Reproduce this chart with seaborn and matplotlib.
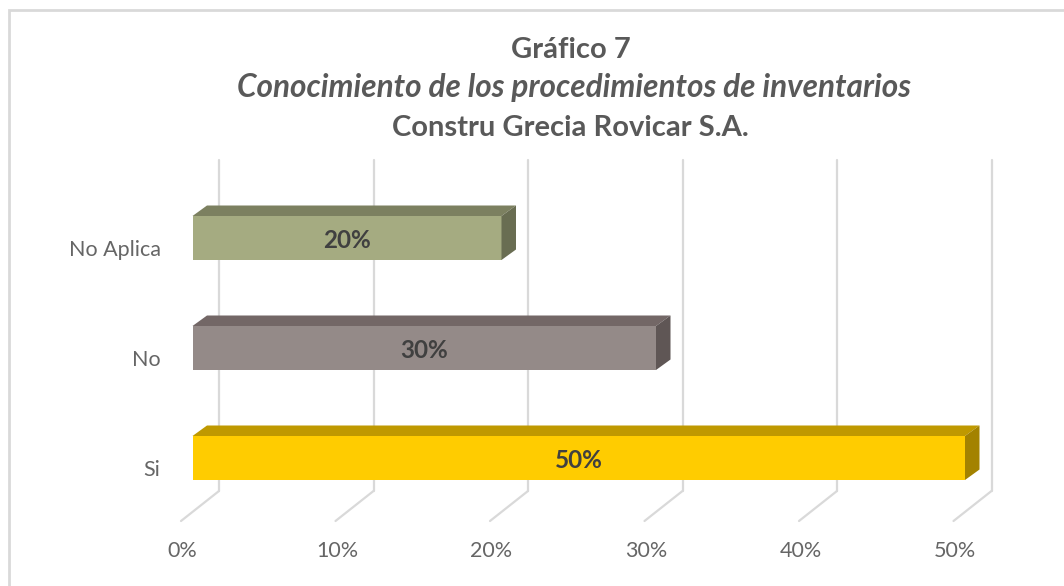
import matplotlib
matplotlib.use('Agg')
import matplotlib.pyplot as plt
from matplotlib.patches import Polygon, Rectangle
from matplotlib.transforms import ScaledTranslation
import pandas as pd
import seaborn as sns

# Values
categories = ['No Aplica', 'No', 'Si']
values = [0.20, 0.30, 0.50]
tick_values = [0.0, 0.1, 0.2, 0.3, 0.4, 0.5]
tick_labels = ['0%', '10%', '20%', '30%', '40%', '50%']
bar_labels = ['20%', '30%', '50%']

front_colors = ['#A5AB81', '#948A88', '#FFCC00']
top_colors = ['#7C8060', '#736766', '#BF9900']
side_colors = ['#696D52', '#5F5655', '#A38200']

W, H = 1064, 586
sns.set_theme(style='white')
plt.rcParams['font.family'] = ['Lato', 'DejaVu Sans']

fig = plt.figure(figsize=(W / 100, H / 100), dpi=100)
# pixel box of the front plane
left, right, top, bottom = 192.5, 965.0, 183.0, 513.0
ax = fig.add_axes([left / W, 1 - bottom / H, (right - left) / W, (bottom - top) / H])

df = pd.DataFrame({'cat': categories, 'val': values})
sns.barplot(data=df, y='cat', x='val', hue='cat', palette=front_colors, legend=False,
            width=0.4, saturation=1, linewidth=0, ax=ax, zorder=3)
ax.set_xlim(0, 0.5)
ax.set_ylim(2.5, -0.5)
ax.set_xlabel('')
ax.set_ylabel('')
sns.despine(ax=ax, left=True, bottom=True)

px_x = 0.5 / (right - left)
px_y = 3 / (bottom - top)

# back wall and floor lines
for v in tick_values:
    bx = v + 26.5 * px_x
    ax.plot([bx, bx], [2.5 - 22 * px_y, -0.5 - 23 * px_y], color='#D9D9D9', lw=1.6,
            clip_on=False, zorder=1)
    ax.plot([bx, v - 11.5 * px_x], [2.5 - 22 * px_y, 2.5 + 8 * px_y], color='#D9D9D9', lw=1.6,
            clip_on=False, zorder=1)

# fake 3D depth of the bars
dx = 14.5 * px_x
dy = 10.5 * px_y
for i, patch in enumerate(ax.patches):
    x1 = patch.get_width()
    y0 = patch.get_y()
    y1 = y0 + patch.get_height()
    ax.add_patch(Polygon([(0, y0), (dx, y0 - dy), (x1 + dx, y0 - dy), (x1, y0)],
                         color=top_colors[i], lw=0, clip_on=False, zorder=3))
    ax.add_patch(Polygon([(x1, y0), (x1 + dx, y0 - dy), (x1 + dx, y1 - dy), (x1, y1)],
                         color=side_colors[i], lw=0, clip_on=False, zorder=3))
    ax.text(x1 / 2, i + 2 * px_y, bar_labels[i], ha='center', va='center', fontsize=17.5,
            fontweight='bold', color='#404040', zorder=4)

# tick labels
ax.set_xticks(tick_values, tick_labels)
ax.tick_params(axis='both', length=0, labelsize=15.5, labelcolor='#666666')
ax.tick_params(axis='x', pad=20)
ax.tick_params(axis='y', pad=23)
for lab in ax.get_xticklabels():
    lab.set_transform(lab.get_transform() + ScaledTranslation(-10 / 100, 0, fig.dpi_scale_trans))
for lab in ax.get_yticklabels():
    lab.set_transform(lab.get_transform() + ScaledTranslation(0, -10 / 100, fig.dpi_scale_trans))

# title, three lines
fig.text(570.5 / W, 1 - 50 / H, 'Gráfico 7', ha='center', va='center', fontsize=21, fontweight='bold', color='#595959')
fig.text(574.5 / W, 1 - 88 / H, 'Conocimiento de los procedimientos de inventarios', ha='center', va='center',
         fontsize=22.7, fontweight='bold', fontstyle='italic', color='#595959')
fig.text(570.5 / W, 1 - 128 / H, 'Constru Grecia Rovicar S.A.', ha='center', va='center', fontsize=21,
         fontweight='bold', color='#595959')

# chart frame
fig.add_artist(Rectangle((9 / W, -0.1), 1.2, 1.1 - 10 / H, transform=fig.transFigure, fill=False,
                         edgecolor='#D9D9D9', lw=2))

fig.savefig('out.png', dpi=100)
